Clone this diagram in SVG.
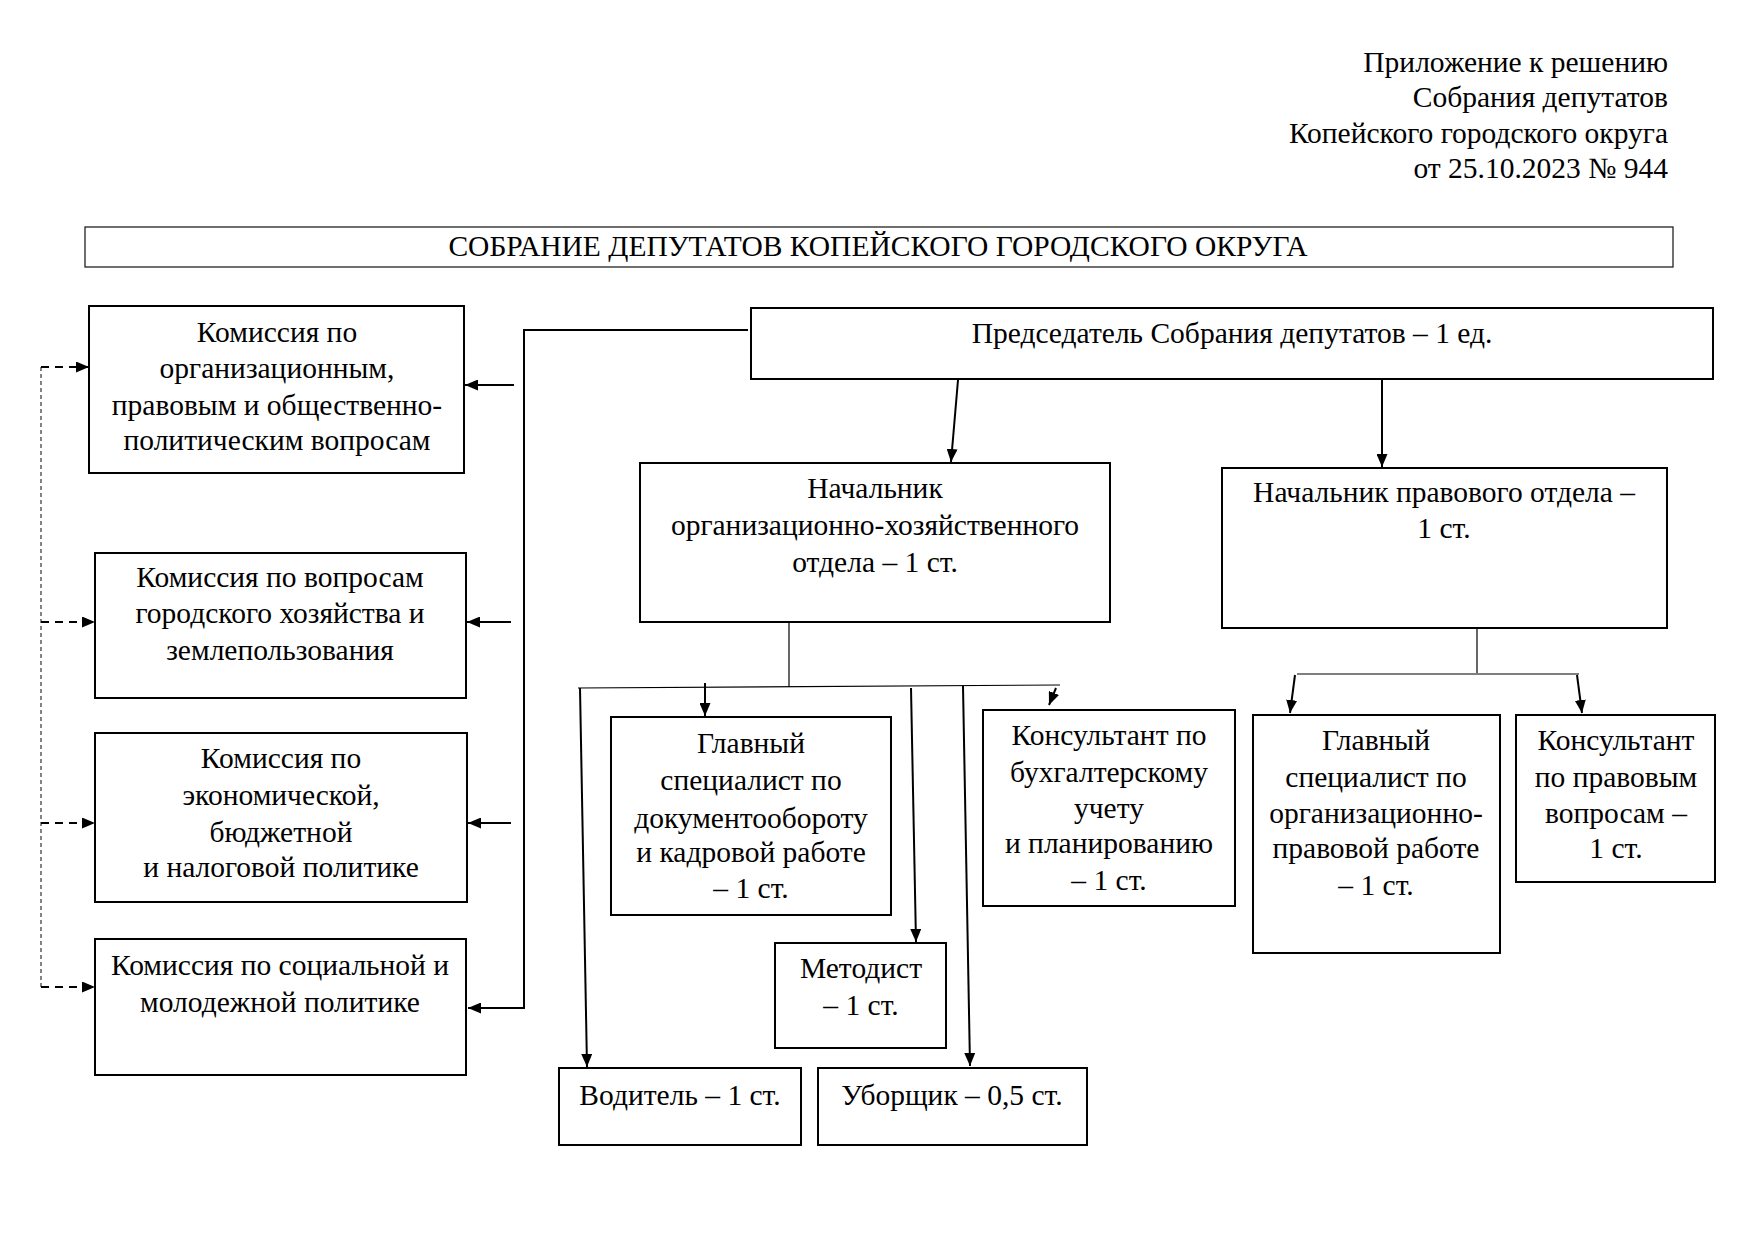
<svg xmlns="http://www.w3.org/2000/svg" width="1755" height="1241" viewBox="0 0 1755 1241">
<style>
text{font-family:"Liberation Serif","Times New Roman",serif;font-size:29.5px;fill:#000}
.c{text-anchor:middle}
.r{text-anchor:end}
.box{fill:#fff;stroke:#000;stroke-width:2}
.ln{fill:none;stroke:#000;stroke-width:2}
.thin{fill:none;stroke:#000;stroke-width:1.2}
.dash{fill:none;stroke:#000;stroke-width:2;stroke-dasharray:8 6}
.dot{fill:none;stroke:#333;stroke-width:1.2;stroke-dasharray:4 3}
</style>
<defs>
<marker id="ah" markerUnits="userSpaceOnUse" markerWidth="13" markerHeight="11" refX="13" refY="5.5" orient="auto">
<path d="M0,0 L13,5.5 L0,11 z" fill="#000"/>
</marker>
</defs>
<rect width="1755" height="1241" fill="#fff"/>
<g id="header">
<text class="r" x="1668" y="72">Приложение к решению</text>
<text class="r" x="1668" y="107">Собрания депутатов</text>
<text class="r" x="1668" y="143">Копейского городского округа</text>
<text class="r" x="1668" y="178">от 25.10.2023 № 944</text>
</g>
<g id="title">
<rect x="85" y="227" width="1588" height="40" fill="#fff" stroke="#222" stroke-width="1.3"/>
<text class="c" x="878" y="256">СОБРАНИЕ ДЕПУТАТОВ КОПЕЙСКОГО ГОРОДСКОГО ОКРУГА</text>
</g>
<g id="connectors">
<polyline class="ln" points="748,330 524,330 524,1008 468,1008" marker-end="url(#ah)"/>
<line class="ln" x1="514" y1="385" x2="465" y2="385" marker-end="url(#ah)"/>
<line class="ln" x1="511" y1="622" x2="467" y2="622" marker-end="url(#ah)"/>
<line class="ln" x1="511" y1="823" x2="468" y2="823" marker-end="url(#ah)"/>
<line class="dot" x1="41" y1="367" x2="41" y2="987"/>
<line class="dash" x1="41" y1="367" x2="89" y2="367" marker-end="url(#ah)"/>
<line class="dash" x1="41" y1="622" x2="95" y2="622" marker-end="url(#ah)"/>
<line class="dash" x1="41" y1="823" x2="95" y2="823" marker-end="url(#ah)"/>
<line class="dash" x1="41" y1="987" x2="95" y2="987" marker-end="url(#ah)"/>
<line class="ln" x1="958" y1="380" x2="951" y2="462" marker-end="url(#ah)"/>
<line class="ln" x1="1382" y1="380" x2="1382" y2="467" marker-end="url(#ah)"/>
<line class="thin" x1="789" y1="623" x2="789" y2="687"/>
<line class="thin" x1="578" y1="688" x2="1060" y2="685"/>
<line class="ln" x1="580" y1="688" x2="587" y2="1067" marker-end="url(#ah)"/>
<line class="ln" x1="705" y1="683" x2="705" y2="716" marker-end="url(#ah)"/>
<line class="ln" x1="911" y1="688" x2="916" y2="942" marker-end="url(#ah)"/>
<line class="ln" x1="963" y1="686" x2="970" y2="1066" marker-end="url(#ah)"/>
<line class="ln" x1="1056" y1="688" x2="1049" y2="705" marker-end="url(#ah)"/>
<line class="thin" x1="1477" y1="629" x2="1477" y2="673"/>
<line class="thin" x1="1297" y1="674" x2="1579" y2="674"/>
<line class="ln" x1="1295" y1="675" x2="1290" y2="713" marker-end="url(#ah)"/>
<line class="ln" x1="1577" y1="675" x2="1582" y2="713" marker-end="url(#ah)"/>
</g>
<g id="n-kom1">
<rect class="box" x="89" y="306" width="375" height="167"/>
<text class="c" x="277" y="342">Комиссия по</text>
<text class="c" x="277" y="378">организационным,</text>
<text class="c" x="277" y="415">правовым и общественно-</text>
<text class="c" x="277" y="450">политическим вопросам</text>
</g>
<g id="n-kom2">
<rect class="box" x="95" y="553" width="371" height="145"/>
<text class="c" x="280" y="587">Комиссия по вопросам</text>
<text class="c" x="280" y="623">городского хозяйства и</text>
<text class="c" x="280" y="660">землепользования</text>
</g>
<g id="n-kom3">
<rect class="box" x="95" y="733" width="372" height="169"/>
<text class="c" x="281" y="768">Комиссия по</text>
<text class="c" x="281" y="805">экономической,</text>
<text class="c" x="281" y="842">бюджетной</text>
<text class="c" x="281" y="877">и налоговой политике</text>
</g>
<g id="n-kom4">
<rect class="box" x="95" y="939" width="371" height="136"/>
<text class="c" x="280" y="975">Комиссия по социальной и</text>
<text class="c" x="280" y="1012">молодежной политике</text>
</g>
<g id="n-pred">
<rect class="box" x="751" y="308" width="962" height="71"/>
<text class="c" x="1232" y="343">Председатель Собрания депутатов – 1 ед.</text>
</g>
<g id="n-org">
<rect class="box" x="640" y="463" width="470" height="159"/>
<text class="c" x="875" y="498">Начальник</text>
<text class="c" x="875" y="535">организационно-хозяйственного</text>
<text class="c" x="875" y="572">отдела – 1 ст.</text>
</g>
<g id="n-legal">
<rect class="box" x="1222" y="468" width="445" height="160"/>
<text class="c" x="1444" y="502">Начальник правового отдела –</text>
<text class="c" x="1444" y="538">1 ст.</text>
</g>
<g id="n-gs-doc">
<rect class="box" x="611" y="717" width="280" height="198"/>
<text class="c" x="751" y="753">Главный</text>
<text class="c" x="751" y="790">специалист по</text>
<text class="c" x="751" y="828">документообороту</text>
<text class="c" x="751" y="862">и кадровой работе</text>
<text class="c" x="751" y="898">– 1 ст.</text>
</g>
<g id="n-kons-buh">
<rect class="box" x="983" y="710" width="252" height="196"/>
<text class="c" x="1109" y="745">Консультант по</text>
<text class="c" x="1109" y="782">бухгалтерскому</text>
<text class="c" x="1109" y="818">учету</text>
<text class="c" x="1109" y="853">и планированию</text>
<text class="c" x="1109" y="890">– 1 ст.</text>
</g>
<g id="n-metod">
<rect class="box" x="775" y="943" width="171" height="105"/>
<text class="c" x="861" y="978">Методист</text>
<text class="c" x="861" y="1015">– 1 ст.</text>
</g>
<g id="n-vod">
<rect class="box" x="559" y="1068" width="242" height="77"/>
<text class="c" x="680" y="1105">Водитель – 1 ст.</text>
</g>
<g id="n-ubor">
<rect class="box" x="818" y="1068" width="269" height="77"/>
<text class="c" x="952" y="1105">Уборщик – 0,5 ст.</text>
</g>
<g id="n-gs-legal">
<rect class="box" x="1253" y="715" width="247" height="238"/>
<text class="c" x="1376" y="750">Главный</text>
<text class="c" x="1376" y="787">специалист по</text>
<text class="c" x="1376" y="823">организационно-</text>
<text class="c" x="1376" y="858">правовой работе</text>
<text class="c" x="1376" y="895">– 1 ст.</text>
</g>
<g id="n-kons-legal">
<rect class="box" x="1516" y="715" width="199" height="167"/>
<text class="c" x="1616" y="750">Консультант</text>
<text class="c" x="1616" y="787">по правовым</text>
<text class="c" x="1616" y="823">вопросам –</text>
<text class="c" x="1616" y="858">1 ст.</text>
</g>
</svg>
